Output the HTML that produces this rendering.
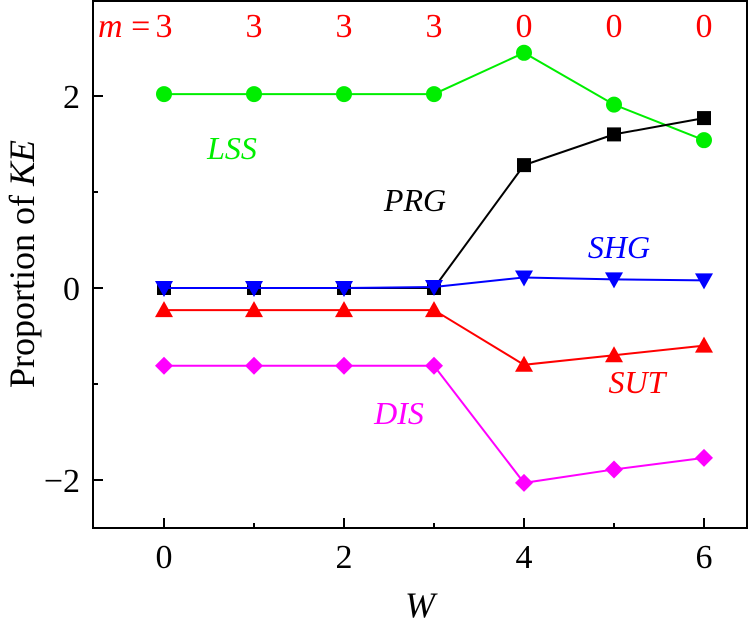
<!DOCTYPE html>
<html><head><meta charset="utf-8"><style>
html,body{margin:0;padding:0;background:#fff}
</style></head><body>
<svg id="chart" width="749" height="633" xmlns="http://www.w3.org/2000/svg" font-family="'Liberation Serif', 'Times New Roman', serif" style="font-family:'Liberation Serif','Times New Roman',serif"></svg>
<script>
const categories=[0,1,2,3,4,5,6];
const mLabels=["3","3","3","3","0","0","0"];
const lss=[2.02,2.02,2.02,2.02,2.45,1.91,1.54];
const prg=[0,0,0,0,1.28,1.60,1.77];
const shg=[0,0,0,0.01,0.11,0.09,0.08];
const sut=[-0.23,-0.23,-0.23,-0.23,-0.80,-0.70,-0.60];
const dis=[-0.81,-0.81,-0.81,-0.81,-2.03,-1.89,-1.77];
const xTicks=[0,2,4,6];
const yTicks=[-2,0,2];
const L=93,R=747,T=1,B=528;
const xs=v=>164+v*90;
const ys=v=>288-v*96;
const svg=document.getElementById('chart');
const NS="http://www.w3.org/2000/svg";
function mk(t,a,txt){const e=document.createElementNS(NS,t);for(const k in a)e.setAttribute(k,a[k]);if(txt!==undefined)e.textContent=txt;svg.appendChild(e);return e;}
let e=mk('rect',{x:L,y:T,width:R-L,height:B-T,fill:'none',stroke:'#000','stroke-width':2});

for(let v=-1;v<=7;v++){const x=xs(v);if(x<=L||x>=R)continue;const major=xTicks.includes(v);
 e=mk('line',{x1:x,x2:x,y1:B,y2:B-(major?10:5),stroke:'#000','stroke-width':2});
 }
xTicks.forEach(v=>{e=mk('text',{x:xs(v),y:568,'font-size':34,'text-anchor':'middle'},String(v));
 });
for(let v=-3;v<=3;v++){const y=ys(v);if(y<=T||y>=B)continue;const major=yTicks.includes(v);
 e=mk('line',{x1:L,x2:L+(major?10:5),y1:y,y2:y,stroke:'#000','stroke-width':2});
 }
yTicks.forEach(v=>{e=mk('text',{x:80,y:ys(v)+12,'font-size':34,'text-anchor':'end'},v<0?'\u2212'+Math.abs(v):String(v));
 });
e=mk('text',{x:420,y:617,'font-size':36,'font-style':'italic','text-anchor':'middle'},'W');

e=mk('text',{x:0,y:0,'font-size':36,'text-anchor':'middle',transform:'translate(34,264) rotate(-90)'});

e.innerHTML='Proportion of <tspan font-style="italic">KE</tspan>';
mLabels.forEach((m,i)=>{e=mk('text',{x:xs(categories[i]),y:37,'font-size':34,fill:'#f00','text-anchor':'middle'},m);
 });
e=mk('text',{x:98,y:37,'font-size':34,fill:'#f00'});

e.innerHTML='<tspan font-style="italic">m</tspan> =';
function series(vals,color,shape,name){
 const pts=vals.map((v,i)=>xs(categories[i])+','+ys(v)).join(' ');
 e=mk('polyline',{points:pts,fill:'none',stroke:color,'stroke-width':2});
 
 vals.forEach((v,i)=>{const x=xs(categories[i]),y=ys(v);let m;
  if(shape==='circle')m=mk('circle',{cx:x,cy:y,r:8,fill:color});
  else if(shape==='square')m=mk('rect',{x:x-7,y:y-7,width:14,height:14,fill:color});
  else if(shape==='up')m=mk('polygon',{points:`${x},${y-9} ${x+9},${y+7} ${x-9},${y+7}`,fill:color});
  else if(shape==='down')m=mk('polygon',{points:`${x},${y+9} ${x+9},${y-7} ${x-9},${y-7}`,fill:color});
  else m=mk('polygon',{points:`${x},${y-9} ${x+9},${y} ${x},${y+9} ${x-9},${y}`,fill:color});
  });
}
series(lss,'#00ee00','circle','lss');
series(sut,'#ff0000','up','sut');
series(dis,'#ff00ff','diamond','dis');
series(prg,'#000','square','prg');
series(shg,'#0000ff','down','shg');
const labels=[['LSS',232,159,'#00ee00'],['PRG',415,211,'#000'],['SHG',619,258,'#0000ff'],['SUT',637,393,'#ff0000'],['DIS',399,424,'#ff00ff']];
labels.forEach(l=>{e=mk('text',{x:l[1],y:l[2],'font-size':32,'font-style':'italic',fill:l[3],'text-anchor':'middle'},l[0]);
 });
</script>
</body></html>
